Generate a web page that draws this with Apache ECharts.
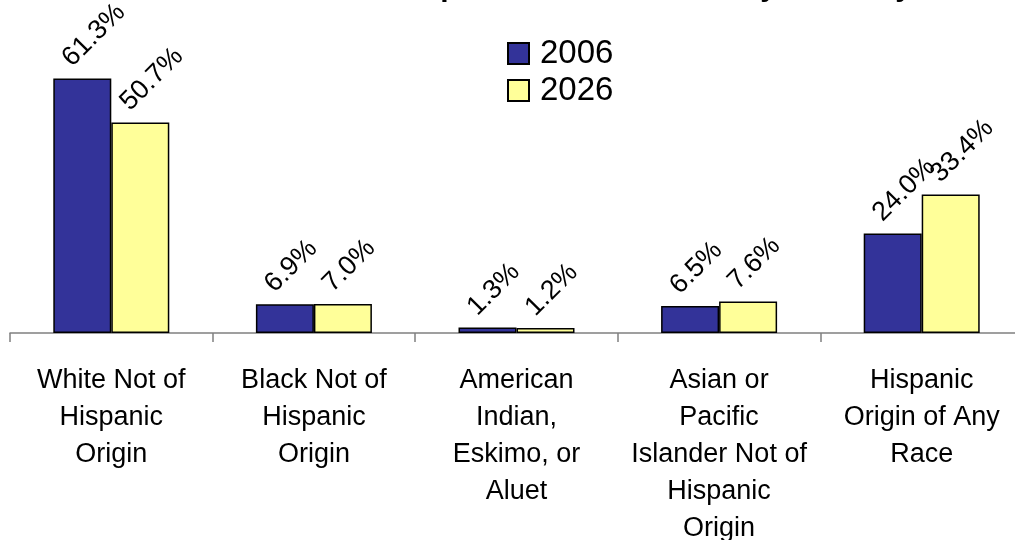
<!DOCTYPE html>
<html>
<head>
    <meta charset="utf-8">
    <title>Population by Ethnicity</title>
    <script type="text/javascript" src="https://cdn.jsdelivr.net/npm/echarts@6/dist/echarts.min.js"></script>
    <style>
        html, body { margin: 0; padding: 0; background: #fff; }
    </style>
</head>

<body>
    <div id="main" style="width:1015px;height:540px;"></div>
    <script type="text/javascript">
    var categories = [
        'White Not of\nHispanic\nOrigin',
        'Black Not of\nHispanic\nOrigin',
        'American\nIndian,\nEskimo, or\nAluet',
        'Asian or\nPacific\nIslander Not of\nHispanic\nOrigin',
        'Hispanic\nOrigin of Any\nRace'
    ];
    var years = ['2006', '2026'];
    var values2006 = [61.3, 6.9, 1.3, 6.5, 24.0];
    var values2026 = [50.7, 7.0, 1.2, 7.6, 33.4];

    var myChart = echarts.init(document.getElementById('main'));

    var labelStyle = {
        show: true,
        position: 'top',
        distance: 5,
        rotate: 45,
        align: 'left',
        verticalAlign: 'middle',
        offset: [-3, -19],
        fontFamily: 'Liberation Sans',
        fontSize: 27,
        color: '#000',
        formatter: function (p) {
            return p.value.toFixed(1) + '%';
        }
    };

    var option = {
        animation: false,
        backgroundColor: '#fff',
        // title sits mostly above the visible area, only descenders show
        title: {
            text: 'Population Distribution by Ethnicity',
            left: 397,
            top: -32,
            textStyle: {
                fontFamily: 'Liberation Sans',
                fontWeight: 'bold',
                fontSize: 30,
                color: '#000'
            }
        },
        legend: {
            orient: 'vertical',
            left: 502,
            top: 32,
            itemWidth: 21,
            itemHeight: 21,
            itemGap: 4,
            icon: 'rect',
            textStyle: {
                fontFamily: 'Liberation Sans',
                fontSize: 33,
                lineHeight: 31,
                padding: [0, 0, 0, 6],
                color: '#000'
            },
            data: years
        },
        grid: {
            left: 10,
            width: 1013,
            top: 1,
            bottom: 207,
            outerBoundsMode: 'none'
        },
        xAxis: {
            type: 'category',
            data: categories,
            axisLine: {
                lineStyle: { color: '#808080', width: 1.5 }
            },
            axisTick: {
                show: true,
                length: 9,
                lineStyle: { color: '#808080', width: 1.5 }
            },
            axisLabel: {
                interval: 0,
                margin: 29,
                fontFamily: 'Liberation Sans',
                fontSize: 27,
                lineHeight: 37,
                color: '#000',
                align: 'center'
            }
        },
        yAxis: {
            type: 'value',
            min: 0,
            max: 80,
            show: false,
            splitLine: { show: false }
        },
        series: [{
            name: '2006',
            type: 'bar',
            barWidth: 58,
            barGap: '0%',
            itemStyle: { color: '#333399', borderColor: '#000', borderWidth: 1.5 },
            label: labelStyle,
            data: values2006
        }, {
            name: '2026',
            type: 'bar',
            barWidth: 58,
            barGap: '0%',
            itemStyle: { color: '#FFFF99', borderColor: '#000', borderWidth: 1.5 },
            label: labelStyle,
            data: values2026
        }]
    };
    myChart.setOption(option);
    </script>
</body>
</html>
